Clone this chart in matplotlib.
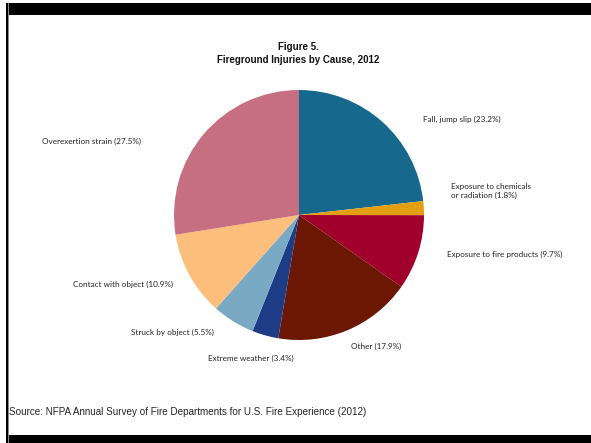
import matplotlib.pyplot as plt
from matplotlib.patches import Rectangle

# Data
causes = ['Fall, jump slip', 'Exposure to chemicals\nor radiation', 'Exposure to fire products',
          'Other', 'Extreme weather', 'Struck by object', 'Contact with object', 'Overexertion strain']
shares = [23.2, 1.8, 9.7, 17.9, 3.4, 5.5, 10.9, 27.5]
colors = ['#16698D', '#E2A010', '#A1002C', '#6C1604', '#1E3B86', '#7AA9C4', '#FBBE7C', '#C56F81']

# label anchor (pixel x, pixel y from top, horizontal alignment)
label_pos = [(423, 119, 'left'), (451, 191, 'left'), (447, 254, 'left'), (351, 346, 'left'),
             (208, 358, 'left'), (214, 332, 'right'), (173, 284, 'right'), (42, 141, 'left')]

W, H = 591, 443
fig = plt.figure(figsize=(W / 100, H / 100), dpi=100)
fig.patch.set_facecolor('white')

# pie axes: centre (299, 215), radius 125 px
cx, cy, r = 299, 215, 125
ax = fig.add_axes([(cx - r) / W, (H - cy - r) / H, 2 * r / W, 2 * r / H])
ax.pie(shares, colors=colors, startangle=90, counterclock=False, radius=1,
       wedgeprops=dict(linewidth=0))
ax.set_xlim(-1, 1)
ax.set_ylim(-1, 1)
ax.set_aspect('equal')
ax.axis('off')

for name, val, (px, py, ha) in zip(causes, shares, label_pos):
    fig.text(px / W, 1 - py / H, f'{name} ({val}%)', ha=ha, va='center',
             fontsize=5.9, family='Lato', color='#222222', linespacing=1.35)

# titles
fig.text(298 / W, 1 - 47 / H, 'Figure 5.', ha='center', va='center',
         fontsize=7, fontweight='bold', family='Liberation Sans', color='#111111')
fig.text(298 / W, 1 - 60 / H, 'Fireground Injuries by Cause, 2012', ha='center', va='center',
         fontsize=7, fontweight='bold', family='Liberation Sans', color='#111111')

fig.text(9 / W, 1 - 412 / H, 'Source: NFPA Annual Survey of Fire Departments for U.S. Fire Experience (2012)',
         ha='left', va='center', fontsize=7.1, family='Liberation Sans', color='#222222')

# frame from the scanned page
fig.patches.append(Rectangle((6 / W, 1 - 15 / H), 1, 12 / H, transform=fig.transFigure,
                             facecolor='black', edgecolor='none'))
fig.patches.append(Rectangle((6 / W, 0), 1, 8 / H, transform=fig.transFigure,
                             facecolor='black', edgecolor='none'))
fig.patches.append(Rectangle((6 / W, 0), 1.5 / W, 1 - 3 / H, transform=fig.transFigure,
                             facecolor='black', edgecolor='none'))
fig.patches.append(Rectangle((7.5 / W, 0), 1.5 / W, 1 - 3 / H, transform=fig.transFigure,
                             facecolor='#8a8a8a', edgecolor='none'))

fig.savefig('out.png', dpi=100)
